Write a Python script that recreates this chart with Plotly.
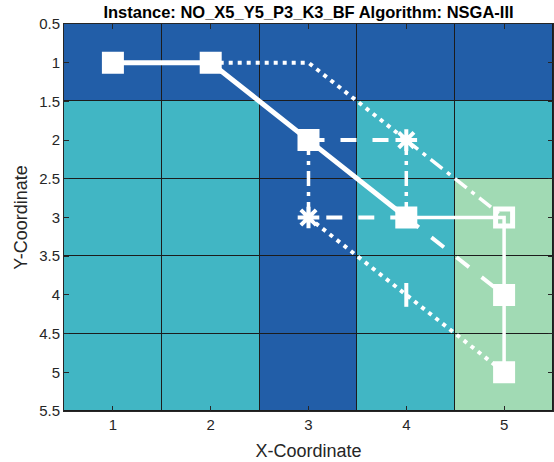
import plotly.graph_objects as go

# Grid cell classes (rows = Y 1..5, columns = X 1..5)
x_cells = [1, 2, 3, 4, 5]
y_cells = [1, 2, 3, 4, 5]
cell_class = [
    [1, 1, 1, 1, 1],
    [2, 2, 1, 2, 2],
    [2, 2, 1, 2, 3],
    [2, 2, 1, 2, 3],
    [2, 2, 1, 2, 3],
]
class_colors = ["#225ea8", "#41b6c4", "#a1dab4"]

# Route segments by line style (None breaks a segment)
solid_main_x = [1, 2, 3, 4]
solid_main_y = [1, 1, 2, 3]
solid_tail_x = [4, 5, 5]
solid_tail_y = [3, 3, 5]
dotted_x = [2, 3, 4, None, 3, 4, 5]
dotted_y = [1, 1, 2, None, 3, 4, 5]
dashed_x = [3, 4, None, 4, 3, None, 4, 5]
dashed_y = [2, 2, None, 3, 3, None, 3, 4]
dashdot_x = [3, 3, None, 4, 4, None, 4, 5]
dashdot_y = [2, 3, None, 2, 3, None, 2, 3]

# Visited nodes
square_x = [1, 2, 3, 4, 5, 5]
square_y = [1, 1, 2, 3, 4, 5]
open_square_x = [5]
open_square_y = [3]
star_x = [4, 3]
star_y = [2, 3]
bar_x = [4]
bar_y = [4]

x_ticks = [1, 2, 3, 4, 5]
y_ticks = [0.5, 1, 1.5, 2, 2.5, 3, 3.5, 4, 4.5, 5, 5.5]
y_tick_text = ["0.5", "1", "1.5", "2", "2.5", "3", "3.5", "4", "4.5", "5", "5.5"]

title_text = "Instance: NO_X5_Y5_P3_K3_BF Algorithm: NSGA-III"

n = len(class_colors)
colorscale = []
for i, c in enumerate(class_colors):
    colorscale.append([i / n, c])
    colorscale.append([(i + 1) / n, c])

fig = go.Figure()
fig.add_trace(go.Heatmap(
    x=x_cells, y=y_cells, z=cell_class,
    colorscale=colorscale, zmin=0.5, zmax=n + 0.5,
    showscale=False, xgap=1, ygap=1, hoverinfo="skip",
))

WHITE = "#ffffff"


def add_line(xs, ys, width, dash):
    fig.add_trace(go.Scatter(
        x=xs, y=ys, mode="lines", hoverinfo="skip",
        line=dict(color=WHITE, width=width, dash=dash),
    ))


add_line(solid_main_x, solid_main_y, 5, "solid")
add_line(solid_tail_x, solid_tail_y, 3.5, "solid")
add_line(dotted_x, dotted_y, 4, "4px,5px")
add_line(dashed_x, dashed_y, 4, "16px,16px")
add_line(dashdot_x, dashdot_y, 3.5, "15px,6px,4px,6px")

fig.add_trace(go.Scatter(
    x=square_x, y=square_y, mode="markers", hoverinfo="skip",
    marker=dict(symbol="square", size=18, color=WHITE,
                line=dict(color=WHITE, width=4)),
))
fig.add_trace(go.Scatter(
    x=open_square_x, y=open_square_y, mode="markers", hoverinfo="skip",
    marker=dict(symbol="square-open", size=17, color=WHITE,
                line=dict(color=WHITE, width=5)),
))
fig.add_trace(go.Scatter(
    x=star_x, y=star_y, mode="markers", hoverinfo="skip",
    marker=dict(symbol="asterisk-open", size=18, color=WHITE,
                line=dict(color=WHITE, width=4)),
))
fig.add_trace(go.Scatter(
    x=bar_x, y=bar_y, mode="markers", hoverinfo="skip",
    marker=dict(symbol="line-ns-open", size=17, color=WHITE,
                line=dict(color=WHITE, width=4)),
))

AXIS_COLOR = "#262626"
axis_common = dict(
    showgrid=False, zeroline=False, showline=True, linewidth=1,
    linecolor=AXIS_COLOR, mirror="ticks", ticks="inside", ticklen=5,
    tickcolor=AXIS_COLOR, tickfont=dict(size=15, color=AXIS_COLOR),
)

fig.update_layout(
    width=554, height=462,
    margin=dict(l=64, r=1, t=24, b=51),
    paper_bgcolor="white", plot_bgcolor="#1c1c1c",
    font=dict(family="Liberation Sans, Arial, sans-serif", color=AXIS_COLOR),
    showlegend=False,
    title=dict(text="<b>" + title_text + "</b>", x=0.5, xref="paper",
               y=1 - 12 / 462, yref="container", yanchor="middle",
               font=dict(size=16.5, color="#000000")),
    xaxis=dict(range=[0.5, 5.5], tickmode="array", tickvals=x_ticks,
               title=dict(text="X-Coordinate", font=dict(size=18), standoff=12),
               **axis_common),
    yaxis=dict(range=[5.5, 0.5], tickmode="array", tickvals=y_ticks,
               ticktext=y_tick_text,
               title=dict(text="Y-Coordinate", font=dict(size=18), standoff=6),
               **axis_common),
)

fig.write_html("out.html")
